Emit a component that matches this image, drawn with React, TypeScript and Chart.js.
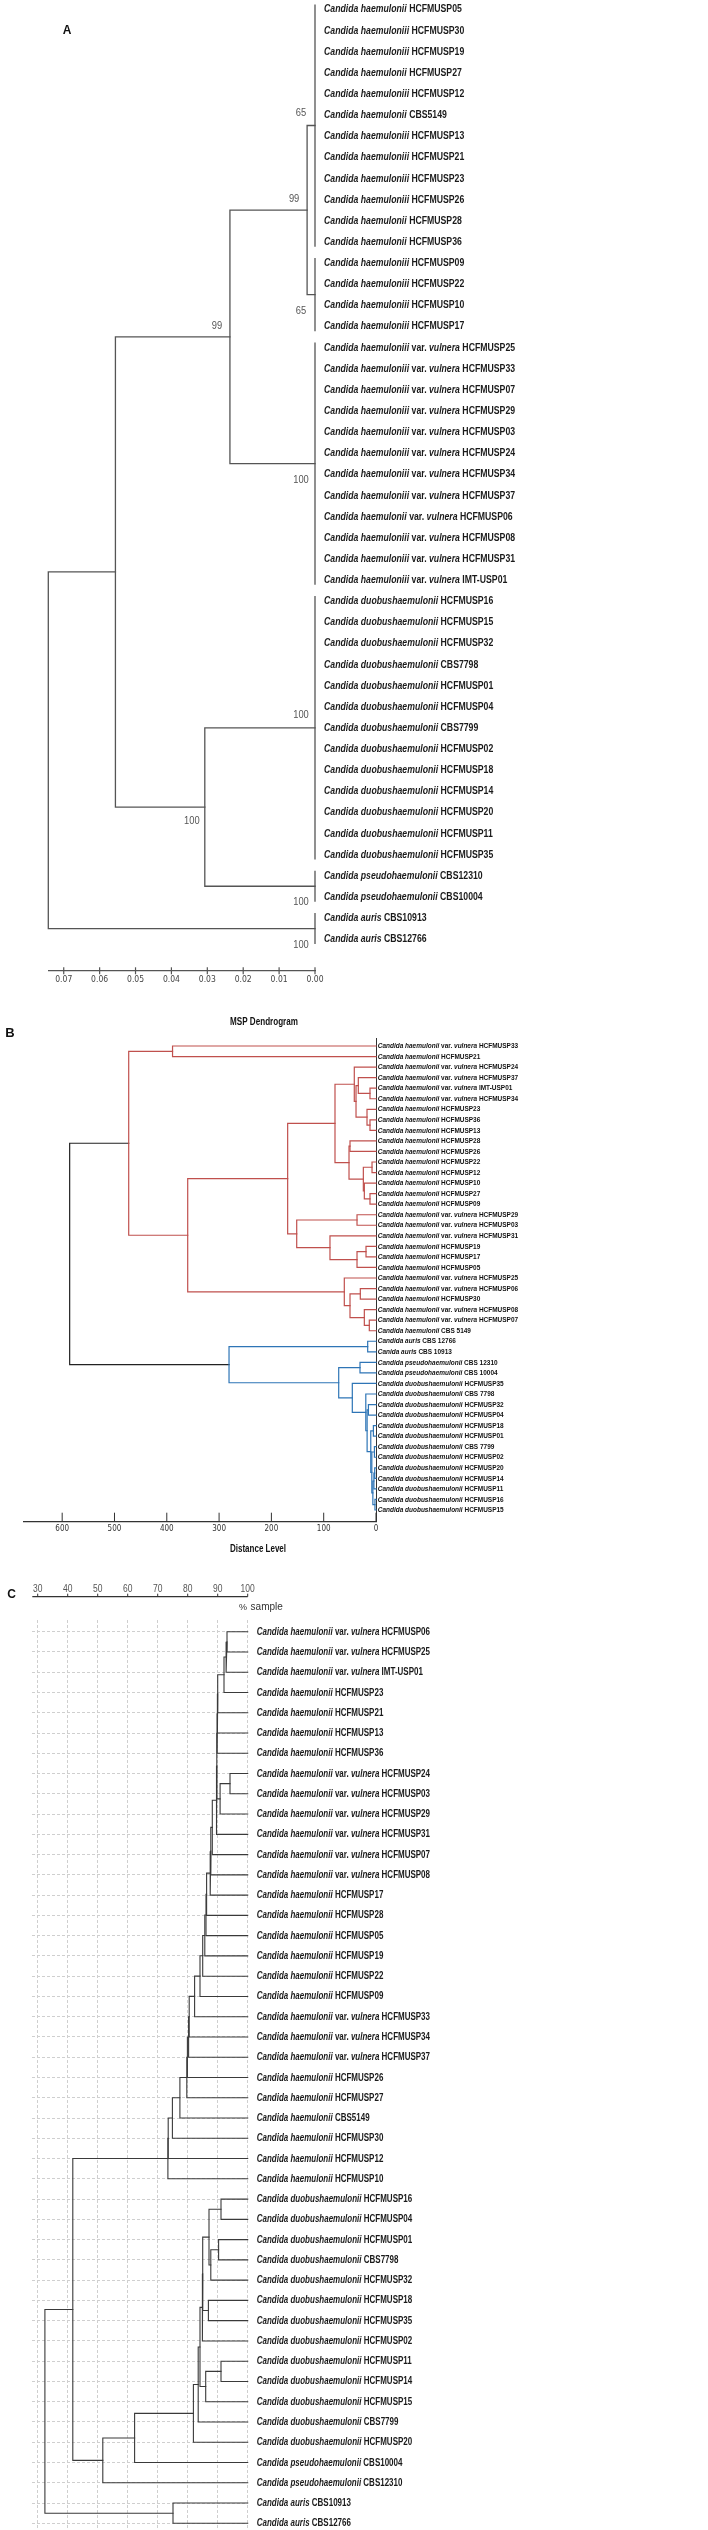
import React, { useEffect, useRef } from 'react';
import { Chart, registerables } from 'chart.js';

Chart.register(...registerables);

const FONT = '"Liberation Sans", Arial, Helvetica, sans-serif';
const NARROW = '"Liberation Sans Narrow", "Arial Narrow", "DejaVu Sans Condensed", sans-serif';

type Child = string | number;
type Merge = [Child, Child, number];
type Pt = { x: number; y: number };

// ================= Panel A (distance tree) =================
const leavesA: string[] = [
  '*Candida haemulonii* HCFMUSP05',
  '*Candida haemuloniii* HCFMUSP30',
  '*Candida haemuloniii* HCFMUSP19',
  '*Candida haemulonii* HCFMUSP27',
  '*Candida haemuloniii* HCFMUSP12',
  '*Candida haemulonii* CBS5149',
  '*Candida haemuloniii* HCFMUSP13',
  '*Candida haemuloniii* HCFMUSP21',
  '*Candida haemuloniii* HCFMUSP23',
  '*Candida haemuloniii* HCFMUSP26',
  '*Candida haemulonii* HCFMUSP28',
  '*Candida haemulonii* HCFMUSP36',
  '*Candida haemuloniii* HCFMUSP09',
  '*Candida haemuloniii* HCFMUSP22',
  '*Candida haemuloniii* HCFMUSP10',
  '*Candida haemuloniii* HCFMUSP17',
  '*Candida haemuloniii* var. *vulnera* HCFMUSP25',
  '*Candida haemuloniii* var. *vulnera* HCFMUSP33',
  '*Candida haemuloniii* var. *vulnera* HCFMUSP07',
  '*Candida haemuloniii* var. *vulnera* HCFMUSP29',
  '*Candida haemuloniii* var. *vulnera* HCFMUSP03',
  '*Candida haemuloniii* var. *vulnera* HCFMUSP24',
  '*Candida haemuloniii* var. *vulnera* HCFMUSP34',
  '*Candida haemuloniii* var. *vulnera* HCFMUSP37',
  '*Candida haemulonii* var. *vulnera* HCFMUSP06',
  '*Candida haemuloniii* var. *vulnera* HCFMUSP08',
  '*Candida haemuloniii* var. *vulnera* HCFMUSP31',
  '*Candida haemuloniii* var. *vulnera* IMT-USP01',
  '*Candida duobushaemulonii* HCFMUSP16',
  '*Candida duobushaemulonii* HCFMUSP15',
  '*Candida duobushaemulonii* HCFMUSP32',
  '*Candida duobushaemulonii* CBS7798',
  '*Candida duobushaemulonii* HCFMUSP01',
  '*Candida duobushaemulonii* HCFMUSP04',
  '*Candida duobushaemulonii* CBS7799',
  '*Candida duobushaemulonii* HCFMUSP02',
  '*Candida duobushaemulonii* HCFMUSP18',
  '*Candida duobushaemulonii* HCFMUSP14',
  '*Candida duobushaemulonii* HCFMUSP20',
  '*Candida duobushaemulonii* HCFMUSP11',
  '*Candida duobushaemulonii* HCFMUSP35',
  '*Candida pseudohaemulonii* CBS12310',
  '*Candida pseudohaemulonii* CBS10004',
  '*Candida auris* CBS10913',
  '*Candida auris* CBS12766',
];
const groupsA: [string, string][] = [
  ['HCFMUSP05', 'HCFMUSP36'],
  ['HCFMUSP09', 'HCFMUSP17'],
  ['HCFMUSP25', 'IMT-USP01'],
  ['HCFMUSP16', 'HCFMUSP35'],
  ['CBS12310', 'CBS10004'],
  ['CBS10913', 'CBS12766'],
];
const groupSupportA = ['65', '65', '100', '100', '100', '100'];
const groupSupportSideA = [-1, 1, 1, -1, 1, 1];
const mergesA: Merge[] = [
  ['#0', '#1', 0.0022],
  [0, '#2', 0.0237],
  ['#3', '#4', 0.0307],
  [1, 2, 0.0556],
  [3, '#5', 0.0743],
];
const nodeSupportA = ['99', '99', '100', '', ''];
const nodeSupportSideA = [-1, -1, 1, 0, 0];
const ticksA = [0, 0.01, 0.02, 0.03, 0.04, 0.05, 0.06, 0.07];

// ================= Panel B (MSP dendrogram) =================
const leavesB: string[] = [
  '*Candida haemulonii* var. *vulnera* HCFMUSP33',
  '*Candida haemulonii* HCFMUSP21',
  '*Candida haemulonii* var. *vulnera* HCFMUSP24',
  '*Candida haemulonii* var. *vulnera* HCFMUSP37',
  '*Candida haemulonii* var. *vulnera* IMT-USP01',
  '*Candida haemulonii* var. *vulnera* HCFMUSP34',
  '*Candida haemulonii* HCFMUSP23',
  '*Candida haemulonii* HCFMUSP36',
  '*Candida haemulonii* HCFMUSP13',
  '*Candida haemulonii* HCFMUSP28',
  '*Candida haemulonii* HCFMUSP26',
  '*Candida haemulonii* HCFMUSP22',
  '*Candida haemulonii* HCFMUSP12',
  '*Candida haemulonii* HCFMUSP10',
  '*Candida haemulonii* HCFMUSP27',
  '*Candida haemulonii* HCFMUSP09',
  '*Candida haemulonii* var. *vulnera* HCFMUSP29',
  '*Candida haemulonii* var. *vulnera* HCFMUSP03',
  '*Candida haemulonii* var. *vulnera* HCFMUSP31',
  '*Candida haemulonii* HCFMUSP19',
  '*Candida haemulonii* HCFMUSP17',
  '*Candida haemulonii* HCFMUSP05',
  '*Candida haemulonii* var. *vulnera* HCFMUSP25',
  '*Candida haemulonii* var. *vulnera* HCFMUSP06',
  '*Candida haemulonii* HCFMUSP30',
  '*Candida haemulonii* var. *vulnera* HCFMUSP08',
  '*Candida haemulonii* var. *vulnera* HCFMUSP07',
  '*Candida haemulonii* CBS 5149',
  '*Candida auris* CBS 12766',
  '*Canida auris* CBS 10913',
  '*Candida pseudohaemulonii* CBS 12310',
  '*Candida pseudohaemulonii* CBS 10004',
  '*Candida duobushaemulonii* HCFMUSP35',
  '*Candida duobushaemulonii* CBS 7798',
  '*Candida duobushaemulonii* HCFMUSP32',
  '*Candida duobushaemulonii* HCFMUSP04',
  '*Candida duobushaemulonii* HCFMUSP18',
  '*Candida duobushaemulonii* HCFMUSP01',
  '*Candida duobushaemulonii* CBS 7799',
  '*Candida duobushaemulonii* HCFMUSP02',
  '*Candida duobushaemulonii* HCFMUSP20',
  '*Candida duobushaemulonii* HCFMUSP14',
  '*Candida duobushaemulonii* HCFMUSP11',
  '*Candida duobushaemulonii* HCFMUSP16',
  '*Candida duobushaemulonii* HCFMUSP15',
];
const mergesB: Merge[] = [
  ['HCFMUSP33', 'HCFMUSP21', 389], // 0
  ['IMT-USP01', 'HCFMUSP34', 11.5], // 1
  ['HCFMUSP37', 1, 33.8], // 2
  ['HCFMUSP36', 'HCFMUSP13', 11.5], // 3
  ['HCFMUSP23', 3, 17.2], // 4
  [2, 4, 38.2], // 5
  ['HCFMUSP24', 5, 41.5], // 6
  ['HCFMUSP28', 'HCFMUSP26', 49.7], // 7
  ['HCFMUSP22', 'HCFMUSP12', 7.6], // 8
  ['HCFMUSP27', 'HCFMUSP09', 11.5], // 9
  ['HCFMUSP10', 9, 22.3], // 10
  [8, 10, 24.2], // 11
  [7, 11, 51.6], // 12
  [6, 12, 78.4], // 13
  ['HCFMUSP29', 'HCFMUSP03', 36.3], // 14
  ['HCFMUSP19', 'HCFMUSP17', 19.1], // 15
  [15, 'HCFMUSP05', 36.3], // 16
  ['HCFMUSP31', 16, 88], // 17
  [14, 17, 151.6], // 18
  [13, 18, 168.9], // 19
  ['HCFMUSP07', 'CBS 5149', 12.8], // 20
  ['HCFMUSP08', 20, 22.3], // 21
  ['HCFMUSP06', 'HCFMUSP30', 30], // 22
  [22, 21, 49.7], // 23
  ['HCFMUSP25', 23, 60.6], // 24
  [19, 24, 360], // 25
  [0, 25, 472.8], // 26 red cluster
  ['CBS 12766', 'CBS 10913', 15.9], // 27
  ['CBS 12310', 'CBS 10004', 30.6], // 28
  ['HCFMUSP32', 'HCFMUSP04', 14.5], // 29
  ['HCFMUSP18', 'HCFMUSP01', 5], // 30
  ['CBS 7799', 'HCFMUSP02', 3], // 31
  ['HCFMUSP20', 'HCFMUSP14', 2.5], // 32
  [32, 'HCFMUSP11', 4], // 33
  ['HCFMUSP16', 'HCFMUSP15', 2], // 34
  [33, 34, 6], // 35
  [31, 35, 8], // 36
  [30, 36, 10], // 37
  [29, 37, 17], // 38
  ['CBS 7798', 38, 19.5], // 39
  ['HCFMUSP35', 39, 45.3], // 40
  [28, 40, 71.3], // 41
  [27, 41, 281], // 42 blue cluster
  [26, 42, 585.7], // 43 root
];
const clusterRootsB = [26, 42];
const clusterColorsB = ['#c0504d', '#2e75b6'];
const ticksB = [0, 100, 200, 300, 400, 500, 600];

// ================= Panel C (% similarity) =================
const leavesC: string[] = [
  '*Candida haemulonii* var. *vulnera* HCFMUSP06',
  '*Candida haemulonii* var. *vulnera* HCFMUSP25',
  '*Candida haemulonii* var. *vulnera* IMT-USP01',
  '*Candida haemulonii* HCFMUSP23',
  '*Candida haemulonii* HCFMUSP21',
  '*Candida haemulonii* HCFMUSP13',
  '*Candida haemulonii* HCFMUSP36',
  '*Candida haemulonii* var. *vulnera* HCFMUSP24',
  '*Candida haemulonii* var. *vulnera* HCFMUSP03',
  '*Candida haemulonii* var. *vulnera* HCFMUSP29',
  '*Candida haemulonii* var. *vulnera* HCFMUSP31',
  '*Candida haemulonii* var. *vulnera* HCFMUSP07',
  '*Candida haemulonii* var. *vulnera* HCFMUSP08',
  '*Candida haemulonii* HCFMUSP17',
  '*Candida haemulonii* HCFMUSP28',
  '*Candida haemulonii* HCFMUSP05',
  '*Candida haemulonii* HCFMUSP19',
  '*Candida haemulonii* HCFMUSP22',
  '*Candida haemulonii* HCFMUSP09',
  '*Candida haemulonii* var. *vulnera* HCFMUSP33',
  '*Candida haemulonii* var. *vulnera* HCFMUSP34',
  '*Candida haemulonii* var. *vulnera* HCFMUSP37',
  '*Candida haemulonii* HCFMUSP26',
  '*Candida haemulonii* HCFMUSP27',
  '*Candida haemulonii* CBS5149',
  '*Candida haemulonii* HCFMUSP30',
  '*Candida haemulonii* HCFMUSP12',
  '*Candida haemulonii* HCFMUSP10',
  '*Candida duobushaemulonii* HCFMUSP16',
  '*Candida duobushaemulonii* HCFMUSP04',
  '*Candida duobushaemulonii* HCFMUSP01',
  '*Candida duobushaemulonii* CBS7798',
  '*Candida duobushaemulonii* HCFMUSP32',
  '*Candida duobushaemulonii* HCFMUSP18',
  '*Candida duobushaemulonii* HCFMUSP35',
  '*Candida duobushaemulonii* HCFMUSP02',
  '*Candida duobushaemulonii* HCFMUSP11',
  '*Candida duobushaemulonii* HCFMUSP14',
  '*Candida duobushaemulonii* HCFMUSP15',
  '*Candida duobushaemulonii* CBS7799',
  '*Candida duobushaemulonii* HCFMUSP20',
  '*Candida pseudohaemulonii* CBS10004',
  '*Candida pseudohaemulonii* CBS12310',
  '*Candida auris* CBS10913',
  '*Candida auris* CBS12766',
];
const mergesC: Merge[] = [
  ['HCFMUSP06', 'HCFMUSP25', 93.1], // 0
  [0, 'IMT-USP01', 92.8], // 1
  [1, 'HCFMUSP23', 92.1], // 2
  [2, 'HCFMUSP21', 90.0], // 3
  [3, 'HCFMUSP13', 89.9], // 4
  [4, 'HCFMUSP36', 89.8], // 5
  ['HCFMUSP24', 'HCFMUSP03', 94.1], // 6
  [6, 'HCFMUSP29', 90.8], // 7
  [5, 7, 89.7], // 8
  [8, 'HCFMUSP31', 89.6], // 9
  [9, 'HCFMUSP07', 88.2], // 10
  [10, 'HCFMUSP08', 87.7], // 11
  [11, 'HCFMUSP17', 87.5], // 12
  [12, 'HCFMUSP28', 86.3], // 13
  [13, 'HCFMUSP05', 86.1], // 14
  [14, 'HCFMUSP19', 85.7], // 15
  [15, 'HCFMUSP22', 85.0], // 16
  [16, 'HCFMUSP09', 84.1], // 17
  [17, 'HCFMUSP33', 82.3], // 18
  [18, 'HCFMUSP34', 80.5], // 19
  [19, 'HCFMUSP37', 80.3], // 20
  [20, 'HCFMUSP26', 79.9], // 21
  [21, 'HCFMUSP27', 79.7], // 22
  [22, 'CBS5149', 77.4], // 23
  [23, 'HCFMUSP30', 74.9], // 24
  [24, 'HCFMUSP12', 73.5], // 25
  [25, 'HCFMUSP10', 73.4], // 26
  ['HCFMUSP16', 'HCFMUSP04', 91.1], // 27
  ['HCFMUSP01', 'CBS7798', 90.3], // 28
  [28, 'HCFMUSP32', 87.7], // 29
  [27, 29, 87.1], // 30
  ['HCFMUSP18', 'HCFMUSP35', 86.9], // 31
  [30, 31, 85.0], // 32
  [32, 'HCFMUSP02', 84.9], // 33
  ['HCFMUSP11', 'HCFMUSP14', 91.1], // 34
  [34, 'HCFMUSP15', 86.0], // 35
  [33, 35, 84.1], // 36
  [36, 'CBS7799', 83.5], // 37
  [37, 'HCFMUSP20', 81.9], // 38
  [38, 'CBS10004', 62.3], // 39
  [39, 'CBS12310', 51.7], // 40
  [26, 40, 41.7], // 41
  ['CBS10913', 'CBS12766', 75.1], // 42
  [41, 42, 32.4], // 43
];
const ticksC = [30, 40, 50, 60, 70, 80, 90, 100];

// ================= helpers =================
function buildTree(leaves: string[], merges: Merge[], leafX: number, groups: [string, string][] = []) {
  const idx = (code: string) => leaves.findIndex((l) => l.endsWith(' ' + code));
  const groupPos: Pt[] = [];
  const groupSegs: Pt[][] = [];
  groups.forEach(([a, b]) => {
    const i1 = idx(a);
    const i2 = idx(b);
    groupPos.push({ x: leafX, y: (i1 + i2) / 2 });
    groupSegs.push([{ x: leafX, y: i1 - 0.2 }, { x: leafX, y: i2 + 0.2 }]);
  });
  const nodePos: Pt[] = [];
  const nodeSegs: Pt[][] = [];
  const at = (c: Child): Pt =>
    typeof c === 'number' ? nodePos[c] : c.startsWith('#') ? groupPos[+c.slice(1)] : { x: leafX, y: idx(c) };
  merges.forEach(([a, b, h]) => {
    const p = at(a);
    const q = at(b);
    nodePos.push({ x: h, y: (p.y + q.y) / 2 });
    nodeSegs.push([{ x: p.x, y: p.y }, { x: h, y: p.y }, { x: h, y: q.y }, { x: q.x, y: q.y }]);
  });
  return { groupPos, groupSegs, nodePos, nodeSegs };
}

const lineDs = (data: Pt[], color: string, width: number) => ({
  data,
  showLine: true,
  borderColor: color,
  borderWidth: width,
  pointRadius: 0,
  pointHoverRadius: 0,
  fill: false,
  tension: 0,
  clip: false as any,
  borderCapStyle: 'square' as const,
});

function drawRich(ctx: CanvasRenderingContext2D, text: string, x: number, y: number, size: number, sx: number, color: string) {
  const parts = text.split('*');
  ctx.save();
  ctx.translate(x, y);
  ctx.scale(sx, 1);
  ctx.fillStyle = color;
  ctx.textBaseline = 'middle';
  ctx.textAlign = 'left';
  let cx = 0;
  parts.forEach((p, k) => {
    if (!p) return;
    ctx.font = `${k % 2 ? 'italic ' : ''}bold ${size}px ${FONT}`;
    ctx.fillText(p, cx, 0);
    cx += ctx.measureText(p).width;
  });
  ctx.restore();
}

function drawText(
  ctx: CanvasRenderingContext2D,
  text: string,
  x: number,
  y: number,
  font: string,
  color: string,
  align: CanvasTextAlign = 'center',
  sx = 1
) {
  ctx.save();
  ctx.translate(x, y);
  ctx.scale(sx, 1);
  ctx.font = font;
  ctx.fillStyle = color;
  ctx.textAlign = align;
  ctx.textBaseline = 'middle';
  ctx.fillText(text, 0, 0);
  ctx.restore();
}

function seg(ctx: CanvasRenderingContext2D, x1: number, y1: number, x2: number, y2: number, color: string, w: number) {
  ctx.save();
  ctx.strokeStyle = color;
  ctx.lineWidth = w;
  ctx.beginPath();
  ctx.moveTo(x1, y1);
  ctx.lineTo(x2, y2);
  ctx.stroke();
  ctx.restore();
}

const baseOptions = (padding: any) => ({
  responsive: false,
  maintainAspectRatio: false,
  animation: false as const,
  events: [] as any[],
  layout: { padding },
  plugins: { legend: { display: false }, tooltip: { enabled: false }, title: { display: false } },
});

// ================= configs =================
function configA(): any {
  const t = buildTree(leavesA, mergesA, 0, groupsA);
  const color = '#555';
  const datasets = [...t.groupSegs.map((s) => lineDs(s, color, 1.3)), ...t.nodeSegs.map((s) => lineDs(s, color, 1.3))];
  const plugin = {
    id: 'annotA',
    afterDraw(chart: any) {
      const { ctx, chartArea: ca, scales } = chart;
      const xs = scales.x;
      const ys = scales.y;
      // axis tick marks crossing the axis line
      ticksA.forEach((v) => {
        const px = xs.getPixelForValue(v);
        seg(ctx, px, ca.bottom - 3.5, px, ca.bottom + 3.5, '#555', 1.2);
      });
      // leaf labels
      leavesA.forEach((l, i) => drawRich(ctx, l, ca.right + 9, ys.getPixelForValue(i), 11.5, 0.757, '#1a1a1a'));
      // support values
      t.groupPos.forEach((p, i) => {
        const side = groupSupportSideA[i];
        drawText(ctx, groupSupportA[i], xs.getPixelForValue(p.x) - 14, ys.getPixelForValue(p.y) + (side < 0 ? -13 : 16), `11px ${FONT}`, '#555', 'center', 0.85);
      });
      t.nodePos.forEach((p, i) => {
        if (!nodeSupportA[i]) return;
        const side = nodeSupportSideA[i];
        drawText(ctx, nodeSupportA[i], xs.getPixelForValue(p.x) - 13, ys.getPixelForValue(p.y) + (side < 0 ? -11 : 14), `11px ${FONT}`, '#555', 'center', 0.85);
      });
      drawText(ctx, 'A', 67, 31, `bold 12px ${FONT}`, '#111');
    },
  };
  return {
    type: 'scatter',
    data: { datasets },
    options: {
      ...baseOptions({ left: 48.3, right: 393, top: 0, bottom: 1 }),
      scales: {
        x: {
          type: 'linear',
          reverse: true,
          min: 0,
          max: 0.0743,
          afterBuildTicks: (ax: any) => {
            ax.ticks = ticksA.map((v) => ({ value: v }));
          },
          ticks: {
            callback: (v: any) => Number(v).toFixed(2),
            color: '#444',
            font: { family: NARROW, size: 8.5 },
            padding: 4,
            maxRotation: 0,
            autoSkip: false,
          },
          grid: { display: false, drawTicks: false },
          border: { display: true, color: '#555', width: 1.3 },
        },
        y: { type: 'linear', display: false, reverse: true, min: -0.44, max: 45.5 },
      },
    },
    plugins: [plugin],
  };
}

function configB(): any {
  const t = buildTree(leavesB, mergesB, 0);
  const colors = mergesB.map(() => '#222');
  const paint = (n: number, c: string) => {
    colors[n] = c;
    [mergesB[n][0], mergesB[n][1]].forEach((ch) => {
      if (typeof ch === 'number') paint(ch, c);
    });
  };
  clusterRootsB.forEach((r, i) => paint(r, clusterColorsB[i]));
  const datasets = t.nodeSegs.map((s, i) => lineDs(s, colors[i], 1.2));
  const plugin = {
    id: 'annotB',
    afterDraw(chart: any) {
      const { ctx, chartArea: ca, scales } = chart;
      const xs = scales.x;
      const ys = scales.y;
      ticksB.forEach((v) => {
        const px = xs.getPixelForValue(v);
        seg(ctx, px, ca.bottom - 9, px, ca.bottom, '#333', 1);
      });
      leavesB.forEach((l, i) => drawRich(ctx, l, ca.right + 1.7, ys.getPixelForValue(i), 8, 0.81, '#111'));
      drawText(ctx, 'MSP Dendrogram', 264, 32, `bold 10px ${FONT}`, '#111', 'center', 0.81);
      drawText(ctx, 'Distance Level', 258, 559.7, `bold 10px ${FONT}`, '#111', 'center', 0.8);
      drawText(ctx, 'B', 10, 43, `bold 13px ${FONT}`, '#111');
    },
  };
  return {
    type: 'scatter',
    data: { datasets },
    options: {
      ...baseOptions({ left: 24, right: 332, top: 48, bottom: 23.7 }),
      scales: {
        x: {
          type: 'linear',
          reverse: true,
          min: 0,
          max: 673,
          afterBuildTicks: (ax: any) => {
            ax.ticks = ticksB.map((v) => ({ value: v }));
          },
          ticks: { color: '#333', font: { family: NARROW, size: 8 }, padding: 2.5, maxRotation: 0, autoSkip: false },
          grid: { display: false, drawTicks: false },
          border: { display: true, color: '#333', width: 1.3 },
        },
        y: {
          type: 'linear',
          position: 'right',
          reverse: true,
          min: -0.759,
          max: 45.11,
          ticks: { display: false },
          grid: { display: false, drawTicks: false },
          border: { display: true, color: '#333', width: 1 },
        },
      },
    },
    plugins: [plugin],
  };
}

function configC(): any {
  const t = buildTree(leavesC, mergesC, 100);
  const datasets = t.nodeSegs.map((s) => lineDs(s, '#3a3a3a', 1.1));
  const plugin = {
    id: 'annotC',
    afterDraw(chart: any) {
      const { ctx, chartArea: ca, scales } = chart;
      const xs = scales.x;
      const ys = scales.y;
      // top axis
      const axY = 36.7;
      seg(ctx, ca.left, axY, ca.right, axY, '#333', 1.2);
      ticksC.forEach((v) => {
        const px = xs.getPixelForValue(v);
        seg(ctx, px, axY - 3, px, axY, '#333', 1);
        drawText(ctx, String(v), px, 29.3, `10px ${FONT}`, '#555', 'center', 0.85);
      });
      drawText(ctx, '%', 243, 47.3, `9px ${FONT}`, '#333');
      drawText(ctx, 'sample', 266.7, 47.3, `10px ${FONT}`, '#333');
      drawText(ctx, 'C', 11.7, 34.3, `bold 12px ${FONT}`, '#111');
      leavesC.forEach((l, i) => drawRich(ctx, l, ca.right + 9, ys.getPixelForValue(i), 11, 0.727, '#1a1a1a'));
    },
  };
  const gridOpts = { color: '#cfcfcf', lineWidth: 1, drawTicks: false };
  return {
    type: 'scatter',
    data: { datasets },
    options: {
      ...baseOptions({ left: 32.3, right: 460.3, top: 60, bottom: 0 }),
      scales: {
        x: {
          type: 'linear',
          position: 'top',
          min: 28.2,
          max: 100,
          afterBuildTicks: (ax: any) => {
            ax.ticks = ticksC.map((v) => ({ value: v }));
          },
          ticks: { display: false },
          grid: gridOpts,
          border: { display: false, dash: [3, 2] },
        },
        y: {
          type: 'linear',
          reverse: true,
          min: -0.577,
          max: 44.33,
          afterBuildTicks: (ax: any) => {
            ax.ticks = leavesC.map((_, i) => ({ value: i }));
          },
          ticks: { display: false },
          grid: gridOpts,
          border: { display: false, dash: [3, 2] },
        },
      },
    },
    plugins: [plugin],
  };
}

export default function App() {
  const refA = useRef<HTMLCanvasElement>(null);
  const refB = useRef<HTMLCanvasElement>(null);
  const refC = useRef<HTMLCanvasElement>(null);

  useEffect(() => {
    const charts = [
      new Chart(refA.current as HTMLCanvasElement, configA()),
      new Chart(refB.current as HTMLCanvasElement, configB()),
      new Chart(refC.current as HTMLCanvasElement, configC()),
    ];
    return () => charts.forEach((c) => c.destroy());
  }, []);

  const cv = (top: number): React.CSSProperties => ({ position: 'absolute', left: 0, top });
  return (
    <div style={{ position: 'absolute', left: 0, top: 0, width: 708, height: 2530, background: '#fff', overflow: 'hidden' }}>
      <canvas ref={refA} width={708} height={990} style={cv(0)} />
      <canvas ref={refB} width={708} height={570} style={cv(990)} />
      <canvas ref={refC} width={708} height={970} style={cv(1560)} />
    </div>
  );
}
